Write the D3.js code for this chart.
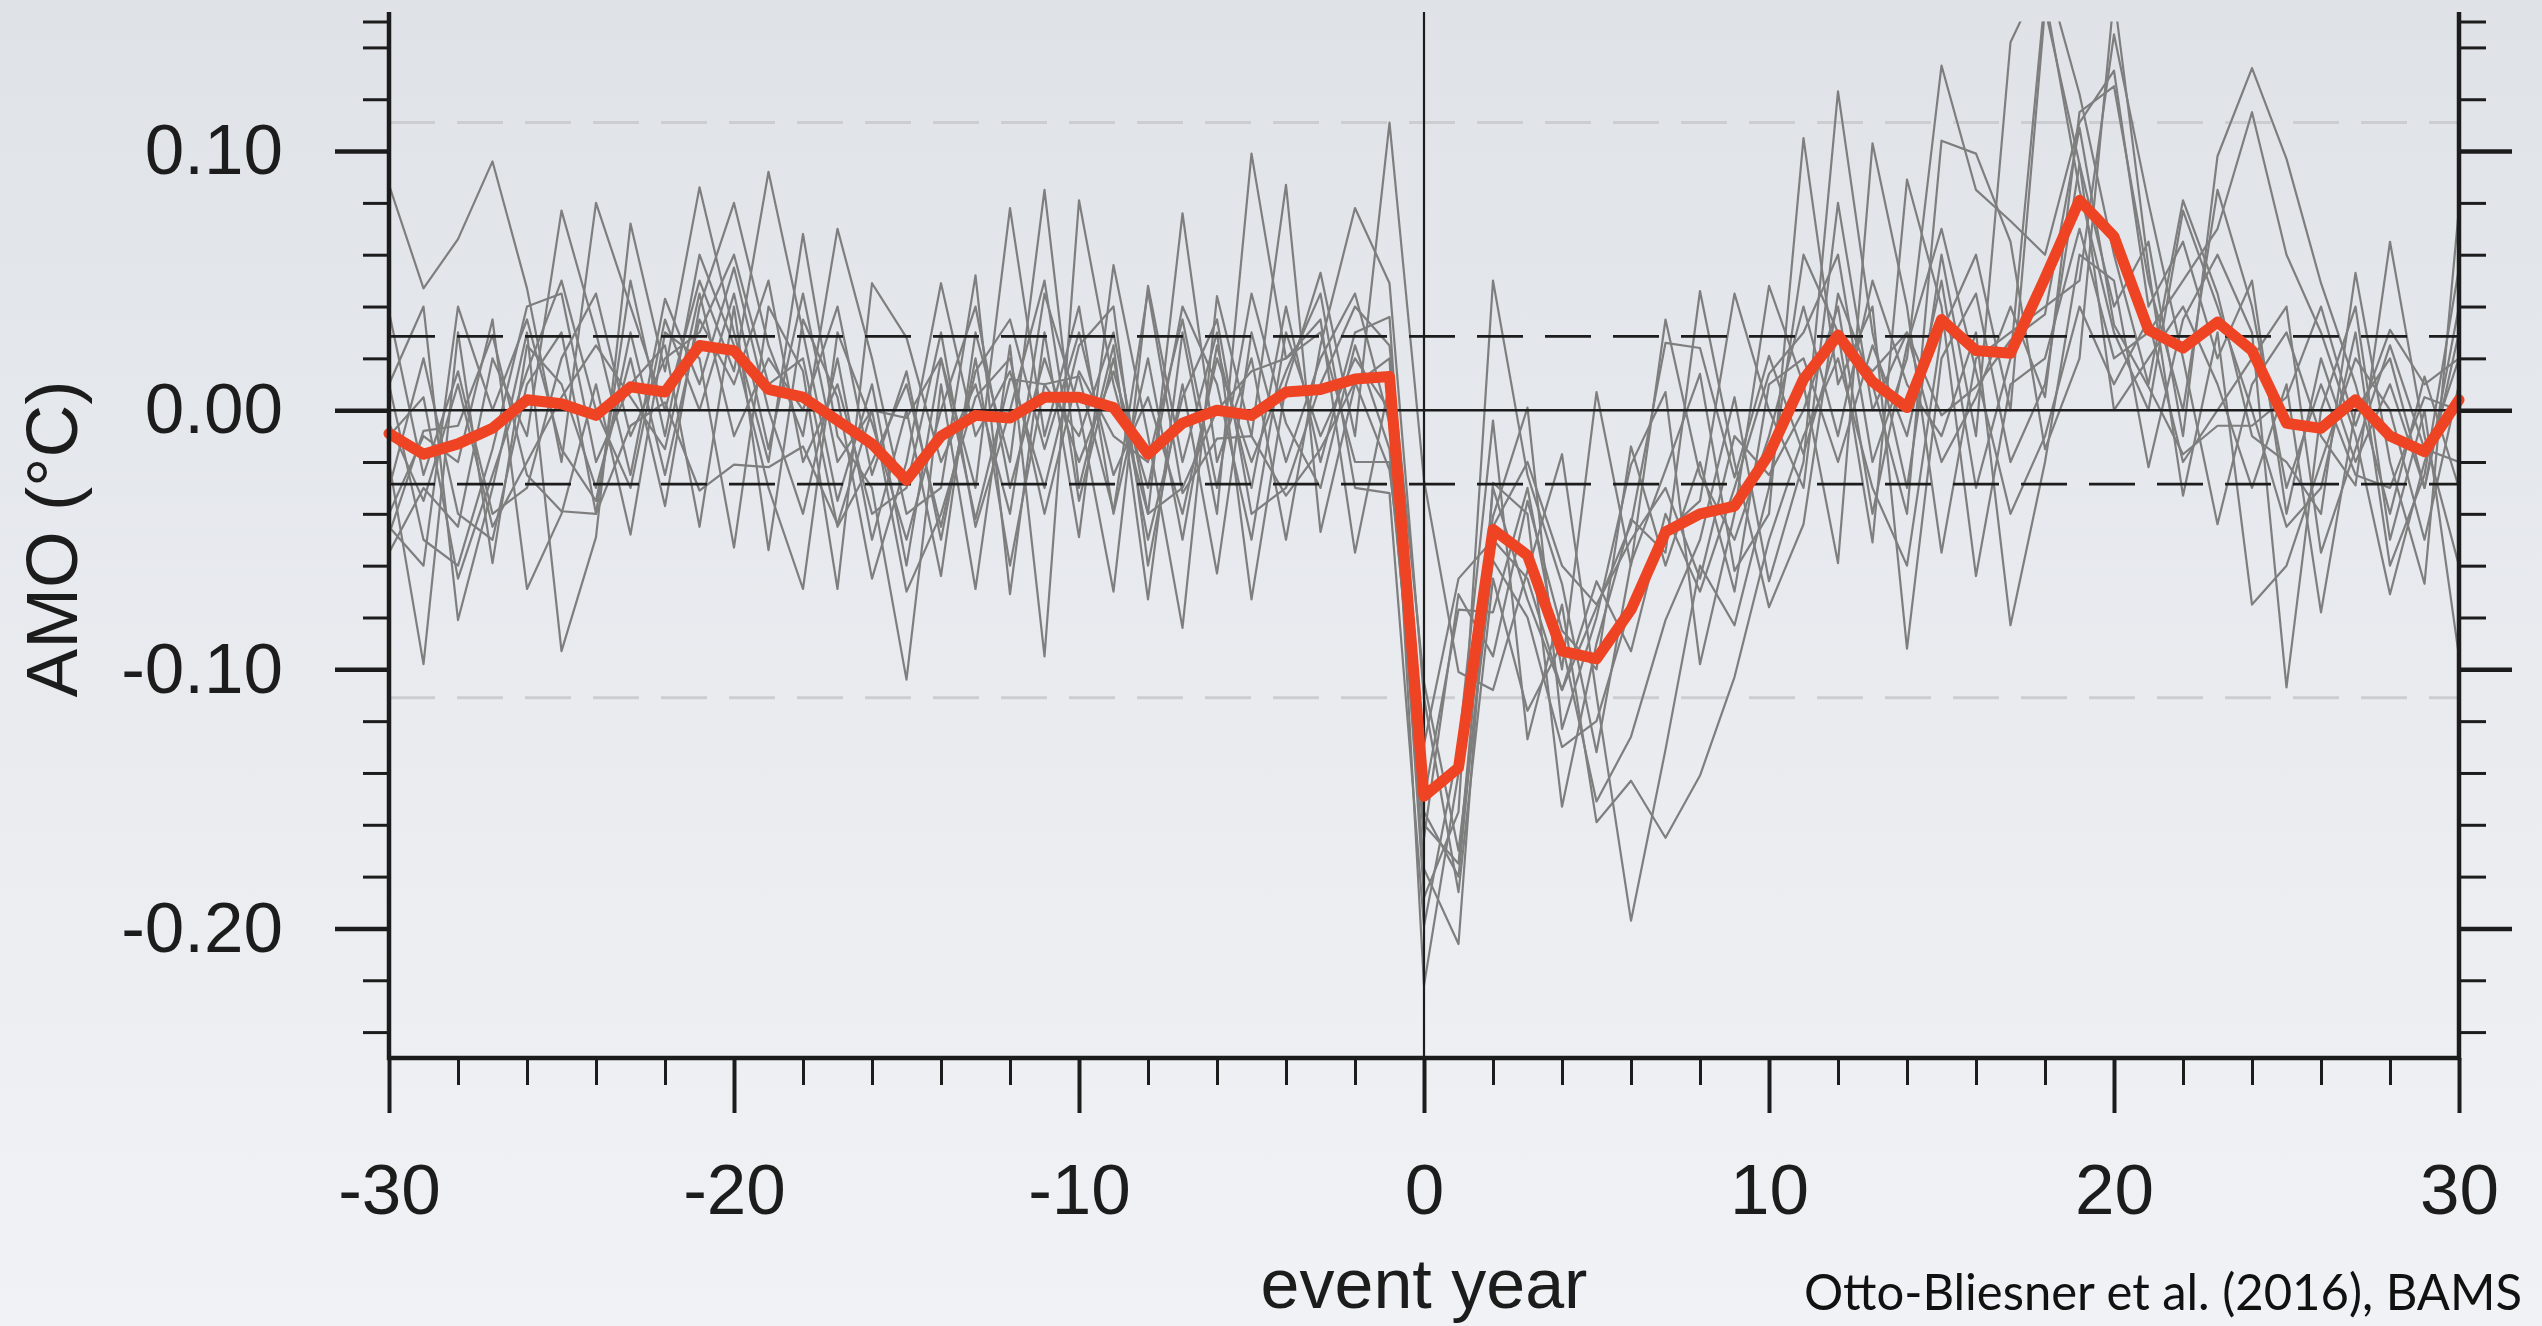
<!DOCTYPE html>
<html>
<head>
<meta charset="utf-8">
<script src="https://cdn.jsdelivr.net/npm/d3@7"></script>
<style>
  html, body { margin: 0; padding: 0; }
  body {
    width: 2542px;
    height: 1326px;
    overflow: hidden;
    background: linear-gradient(#dfe3e8, #f1f2f5);
  }
  svg { display: block; font-family: "Liberation Sans", Arial, sans-serif; }
</style>
</head>
<body>
<svg id="grafico" width="2542" height="1326"></svg>
<script>
// anos do evento
const anos = [-30,-29,-28,-27,-26,-25,-24,-23,-22,-21,-20,-19,-18,-17,-16,-15,-14,-13,-12,-11,
  -10,-9,-8,-7,-6,-5,-4,-3,-2,-1,0,1,2,3,4,5,6,7,8,9,10,11,12,13,14,15,16,17,18,19,20,
  21,22,23,24,25,26,27,28,29,30];

// média do ensemble (linha vermelha)
const media = [-0.009,-0.017,-0.013,-0.007,0.004,0.0025,-0.002,0.009,0.007,0.025,0.023,0.008,0.005,-0.004,-0.013,-0.027,-0.010,-0.002,-0.003,0.005,
  0.005,0.001,-0.017,-0.005,0.000,-0.002,0.007,0.008,0.012,0.013,
  -0.149,-0.138,-0.046,-0.056,-0.093,-0.096,-0.077,-0.047,-0.040,-0.037,-0.017,0.012,0.029,0.011,0.001,0.035,0.023,0.022,0.051,0.081,
  0.067,0.031,0.024,0.034,0.023,-0.005,-0.007,0.004,-0.010,-0.016,0.004];

// membros do ensemble (linhas cinzas)
const membros = [
  [.087,.047,.066,.096,.047,-.020,.080,.040,.000,.050,.015,.092,.030,-.035,.010,-.060,.020,-.030,.078,-.010,.040,-.040,.020,-.050,.025,-.030,.040,-.020,.030,.036,
   -.160,-.175,-.030,-.073,-.108,-.066,-.093,-.040,-.070,-.030,.014,.030,.060,-.020,.020,.133,.085,.073,.060,.111,.131,.040,.065,.020,.050,-.040,.020,-.020,.010,-.030,.040],
  [-.055,-.030,-.045,.020,-.010,.077,.030,-.025,.043,.010,.055,.000,-.040,.020,-.050,.000,-.064,.030,-.020,.085,-.030,.025,-.073,.030,-.040,.099,.020,.035,-.055,.010,
   -.188,-.155,.050,-.025,-.067,-.132,-.059,-.023,.014,-.062,-.040,.105,.010,.040,-.092,.020,.045,-.020,.010,.095,.040,.065,-.010,.098,.132,.097,.049,.010,-.040,.013,-.030],
  [.010,.040,-.081,-.030,.030,-.093,-.049,.072,.015,.086,.030,-.020,.068,-.010,-.030,-.104,.010,-.069,.025,-.095,.081,.010,-.040,.076,-.020,.020,-.050,.025,.078,.049,
   -.111,-.186,-.065,-.116,-.090,-.151,-.126,-.081,-.050,.005,-.066,-.020,.123,.030,-.030,.060,-.010,.142,.170,.122,.060,.010,.081,.045,-.010,-.020,-.040,.053,-.020,-.067,.078],
  [-.020,-.098,.030,-.059,.025,.010,-.030,.020,-.037,.040,.080,.025,-.010,.070,.020,-.040,-.030,.052,-.071,.030,-.049,.056,-.010,-.084,.044,-.010,.087,-.047,.010,.020,
   -.222,-.140,-.041,.001,-.123,-.080,-.021,.007,-.098,-.040,.048,.010,-.059,.103,.040,-.055,.020,.030,.040,.050,.145,.080,.020,-.044,.010,.030,-.010,-.029,.065,-.010,-.060],
  [-.040,-.010,-.020,.035,-.069,-.040,.010,-.048,.030,.020,-.053,.040,.015,-.069,.049,.028,-.020,.010,-.040,.045,.000,-.070,.048,-.020,.030,-.073,.010,.053,-.010,.111,
   -.027,-.101,-.108,-.062,-.017,-.110,-.197,-.131,-.060,-.083,-.030,.060,.030,-.051,.089,.040,-.064,.010,.020,.070,.020,.030,.050,.070,.115,.060,.030,-.010,-.071,-.020,.020],
  [.010,-.050,-.060,-.015,.040,.045,-.020,.010,.025,-.045,.040,-.054,.035,.005,-.065,-.020,.049,-.010,.015,-.030,.025,.040,-.060,.010,-.063,.030,-.020,.020,.045,-.005,
   -.177,-.206,-.028,-.040,-.153,-.090,-.042,-.055,.046,-.020,-.076,-.044,.045,.010,-.040,.104,.099,.065,-.015,.020,.160,.055,-.033,.030,-.075,-.060,-.020,.020,.000,-.050,.010],
  [-.030,.020,-.040,-.050,.010,.030,-.040,.050,-.010,.060,.025,-.030,-.069,.030,-.005,-.050,.000,.040,-.030,.020,-.020,.015,-.030,.040,.010,-.050,.030,-.010,.020,.000,
   -.150,-.077,-.078,-.030,-.100,.007,-.060,.035,-.025,-.050,-.010,.040,-.010,.050,.010,-.010,.030,-.083,-.020,.060,.050,-.022,.035,.060,.030,-.107,.000,.040,-.050,.000,-.095],
  [.038,-.025,.015,-.040,-.030,.020,.045,-.010,.020,.030,.060,.010,.020,-.045,-.020,.010,-.045,.015,.035,-.015,.030,-.025,.005,-.040,.020,-.020,.015,.045,-.030,-.032,
   -.199,-.130,-.004,-.127,-.075,-.159,-.143,-.165,-.141,-.103,-.050,-.010,.020,-.030,-.060,.030,.060,.000,.155,.095,.000,.020,.040,.010,-.030,.010,-.078,.000,.020,-.030,.030],
  [-.045,-.060,.040,.000,.035,-.015,-.035,.030,-.025,.035,.010,.050,-.020,.010,-.040,-.030,.030,-.045,.000,.050,-.035,.020,-.050,.005,.035,-.040,-.030,.010,.040,.025,
   -.105,-.170,-.058,-.080,-.130,-.120,-.075,-.047,-.035,.045,.000,-.030,.080,.000,.030,-.020,.005,.040,.005,.115,.125,.050,.000,.085,.040,-.030,.010,-.025,-.030,.005,.000],
  [-.010,.005,-.065,-.025,.015,.050,.000,-.030,.035,.000,.045,-.015,.045,-.020,.000,-.070,-.040,.005,.020,-.040,.015,-.010,-.020,.035,-.030,.045,-.005,-.030,.025,-.015,
   -.165,-.071,-.095,-.035,-.085,-.100,-.014,-.060,-.020,-.070,.010,.020,-.020,.025,-.010,.050,-.030,.020,.160,.085,.030,.000,.077,.040,.000,-.045,-.030,.030,-.060,-.025,.055],
  [-.005,-.035,.010,-.045,-.020,.005,.025,.005,-.015,.045,-.010,.020,.000,.040,-.025,.015,-.050,.020,-.060,.010,-.010,.030,-.040,-.030,.000,.015,.020,.030,-.020,-.020,
   -.155,-.180,-.045,-.020,-.060,-.075,-.050,-.030,-.065,-.010,-.025,.000,.040,-.040,.025,.070,.015,-.040,-.010,.040,.010,.035,-.020,.000,.020,.040,-.055,-.015,.025,-.015,-.020],
  [-.048,-.008,-.006,.029,-.025,-.039,-.040,-.006,.003,-.031,-.021,-.022,-.014,-.044,.000,-.003,.020,-.042,.012,.010,.013,-.039,.046,-.032,-.011,-.010,-.033,-.015,.011,-.023,
   -.129,-.065,-.050,-.065,-.108,-.076,-.044,.026,.024,-.026,.021,-.017,.029,.015,.030,-.002,.009,.027,.037,.109,.033,.009,-.017,-.006,-.006,.005,.040,-.006,.031,.010,.020]
];

// ticks e linhas de referência
const xMaiores = [-30,-20,-10,0,10,20,30];
const xMenores = [-28,-26,-24,-22,-18,-16,-14,-12,-8,-6,-4,-2,2,4,6,8,12,14,16,18,22,24,26,28];
const yMaiores = [-0.2,-0.1,0,0.1];
const yMenores = [-0.24,-0.22,-0.18,-0.16,-0.14,-0.12,-0.08,-0.06,-0.04,-0.02,0.02,0.04,0.06,0.08,0.12,0.14,0.15];
const faixaInterna = [-0.0285, 0.0285];
const faixaExterna = [-0.111, 0.111];

const esquerda = 389, direita = 2459, topo = 21.5, base = 1058;
const corTexto = '#1c1c1c';

const svg = d3.select('#grafico');

const x = d3.scaleLinear().domain([-30, 30]).range([esquerda, direita]);
const y = d3.scaleLinear().domain([-0.25, 0.15]).range([base, topo]);

// hífen comum no lugar do sinal de menos unicode
const fmtY = (d) => d3.format('.2f')(d).replace('\u2212', '-');
const fmtX = (d) => d3.format('d')(d).replace('\u2212', '-');

svg.append('clipPath').attr('id', 'area')
  .append('rect')
  .attr('x', esquerda).attr('y', topo)
  .attr('width', direita - esquerda).attr('height', base - topo);

// linhas tracejadas claras
svg.selectAll('.externa')
  .data(faixaExterna)
  .enter()
  .append('line')
  .attr('x1', x(-30)).attr('x2', x(30))
  .attr('y1', (d) => y(d)).attr('y2', (d) => y(d))
  .attr('stroke', '#cbcdd1')
  .attr('stroke-width', 3)
  .attr('stroke-dasharray', '46,22');

const linha = d3.line()
  .x((d, i) => x(anos[i]))
  .y((d) => y(d));

// membros
svg.append('g')
  .attr('clip-path', 'url(#area)')
  .selectAll('path')
  .data(membros)
  .enter()
  .append('path')
  .attr('d', linha)
  .attr('fill', 'none')
  .attr('stroke', '#7e7e7e')
  .attr('stroke-width', 2.2)
  .attr('stroke-linejoin', 'round');

// linha do zero e do ano 0
svg.append('line')
  .attr('x1', x(-30)).attr('x2', x(30))
  .attr('y1', y(0)).attr('y2', y(0))
  .attr('stroke', corTexto).attr('stroke-width', 2.5);

svg.append('line')
  .attr('x1', x(0)).attr('x2', x(0))
  .attr('y1', 12).attr('y2', base)
  .attr('stroke', corTexto).attr('stroke-width', 2.2);

// tracejado preto
svg.selectAll('.interna')
  .data(faixaInterna)
  .enter()
  .append('line')
  .attr('x1', x(-30)).attr('x2', x(30))
  .attr('y1', (d) => y(d)).attr('y2', (d) => y(d))
  .attr('stroke', corTexto)
  .attr('stroke-width', 2.8)
  .attr('stroke-dasharray', '46,22');

// média
svg.append('path')
  .datum(media)
  .attr('d', linha)
  .attr('fill', 'none')
  .attr('stroke', '#ef4424')
  .attr('stroke-width', 11)
  .attr('stroke-linejoin', 'round')
  .attr('stroke-linecap', 'round');

// eixos
function estilo(g, largura) {
  g.select('.domain').remove();
  g.selectAll('.tick line').attr('stroke', corTexto).attr('stroke-width', largura);
  g.selectAll('.tick text').attr('fill', corTexto).style('font-size', '71px');
}

svg.append('g')
  .attr('transform', `translate(${esquerda},0)`)
  .call(d3.axisLeft(y).tickValues(yMenores).tickSize(26).tickFormat(''))
  .call((g) => estilo(g, 3));

svg.append('g')
  .attr('transform', `translate(${esquerda},0)`)
  .call(d3.axisLeft(y).tickValues(yMaiores).tickSize(54).tickPadding(52).tickFormat(fmtY))
  .call((g) => estilo(g, 4.5));

svg.append('g')
  .attr('transform', `translate(${direita},0)`)
  .call(d3.axisRight(y).tickValues(yMenores).tickSize(27).tickFormat(''))
  .call((g) => estilo(g, 3));

svg.append('g')
  .attr('transform', `translate(${direita},0)`)
  .call(d3.axisRight(y).tickValues(yMaiores).tickSize(53).tickFormat(''))
  .call((g) => estilo(g, 4.5));

svg.append('g')
  .attr('transform', `translate(0,${base})`)
  .call(d3.axisBottom(x).tickValues(xMenores).tickSize(27).tickFormat(''))
  .call((g) => estilo(g, 3));

svg.append('g')
  .attr('transform', `translate(0,${base})`)
  .call(d3.axisBottom(x).tickValues(xMaiores).tickSize(55).tickPadding(51).tickFormat(fmtX))
  .call((g) => estilo(g, 4));

// moldura
svg.append('path')
  .attr('d', `M${esquerda},12 V${base} H${direita} V12`)
  .attr('fill', 'none')
  .attr('stroke', corTexto)
  .attr('stroke-width', 4.5);

// rótulos
svg.append('text')
  .attr('x', x(0)).attr('y', 1308)
  .attr('text-anchor', 'middle')
  .attr('fill', corTexto)
  .style('font-size', '70px')
  .text('event year');

svg.append('text')
  .attr('transform', 'translate(77,539) rotate(-90)')
  .attr('text-anchor', 'middle')
  .attr('fill', corTexto)
  .style('font-size', '73px')
  .text('AMO (°C)');

svg.append('text')
  .attr('x', 1804).attr('y', 1310)
  .attr('fill', '#111')
  .attr('textLength', 718)
  .attr('lengthAdjust', 'spacingAndGlyphs')
  .style('font-family', 'Lato, "Open Sans", sans-serif')
  .style('font-size', '50px')
  .text('Otto-Bliesner et al. (2016), BAMS');
</script>
</body>
</html>
